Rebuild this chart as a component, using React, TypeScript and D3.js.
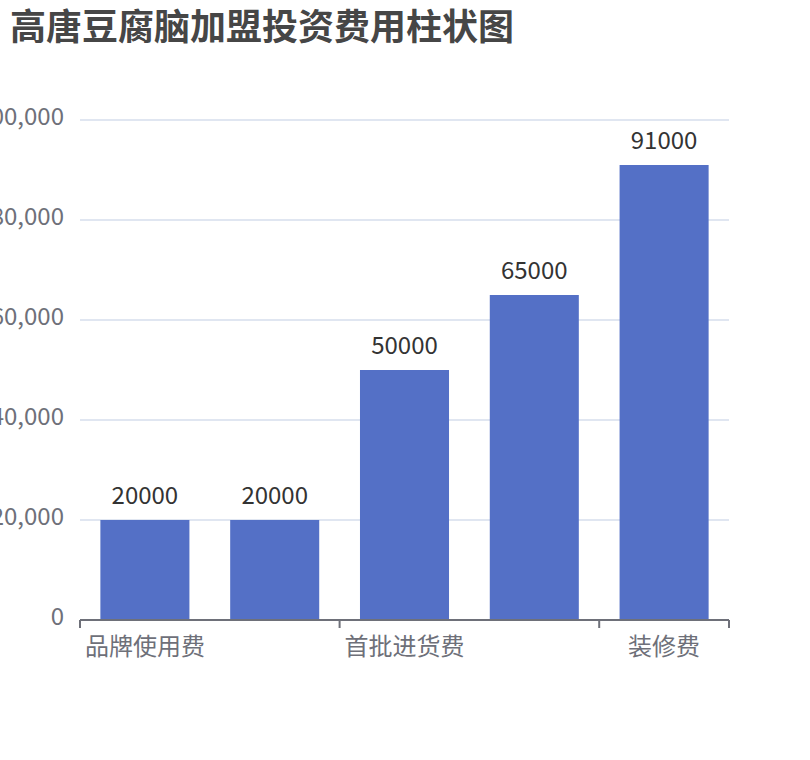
import React from "react";
import * as d3 from "d3";

const title = "高唐豆腐脑加盟投资费用柱状图";
const categories = ["品牌使用费", "加盟保证金", "首批进货费", "设备费", "装修费"];
const values = [20000, 20000, 50000, 65000, 91000];
const yTicks = [0, 20000, 40000, 60000, 80000, 100000];

const W = 810;
const H = 760;
const FONT = "'Noto Sans CJK SC', 'Noto Sans', sans-serif";

export default function App() {
  const left = 80;
  const right = 729;
  const top = 120;
  const bottom = 620;

  const x = d3.scaleBand<string>().domain(categories).range([left, right]).paddingInner(0).paddingOuter(0);
  const y = d3.scaleLinear().domain([0, 100000]).range([bottom, top]);
  const bw = x.bandwidth();
  const barW = bw * 0.686;
  const fmt = d3.format(",");

  // boundary ticks every other category (interval hiding), plus end
  const tickIdx = [0, 2, 4];
  const boundaries = [...tickIdx.map((i) => x(categories[i]) as number), right];

  return (
    <svg
      width={W}
      height={H}
      style={{ position: "absolute", left: 0, top: 0, background: "#fff" }}
      fontFamily={FONT}
    >
      <text x={10} y={40} fontSize={36} fontWeight="bold" fill="#464646">
        {title}
      </text>

      {yTicks.map((t) => (
        <g key={t}>
          {t !== 0 && (
            <line x1={left} x2={right} y1={y(t)} y2={y(t)} stroke="#E0E6F1" strokeWidth={2} />
          )}
          <text
            x={64}
            y={y(t) + 5}
            fontSize={24}
            fill="#6E7079"
            textAnchor="end"
          >
            {fmt(t)}
          </text>
        </g>
      ))}

      {values.map((v, i) => {
        const cx = (x(categories[i]) as number) + bw / 2;
        return (
          <g key={i}>
            <rect x={cx - barW / 2} y={y(v)} width={barW} height={bottom - y(v)} fill="#5470C6" />
            <text x={cx} y={y(v) - 16} fontSize={24} fill="#333" textAnchor="middle">
              {v}
            </text>
          </g>
        );
      })}

      <line x1={left} x2={right} y1={bottom} y2={bottom} stroke="#6E7079" strokeWidth={2} />
      {boundaries.map((bx, i) => (
        <line key={i} x1={bx} x2={bx} y1={bottom} y2={bottom + 8} stroke="#6E7079" strokeWidth={2} />
      ))}
      {categories.map((c, i) =>
        i % 2 === 0 ? (
          <text
            key={c}
            x={(x(c) as number) + bw / 2}
            y={655}
            fontSize={24}
            fill="#6E7079"
            textAnchor="middle"
          >
            {c}
          </text>
        ) : null
      )}
    </svg>
  );
}
